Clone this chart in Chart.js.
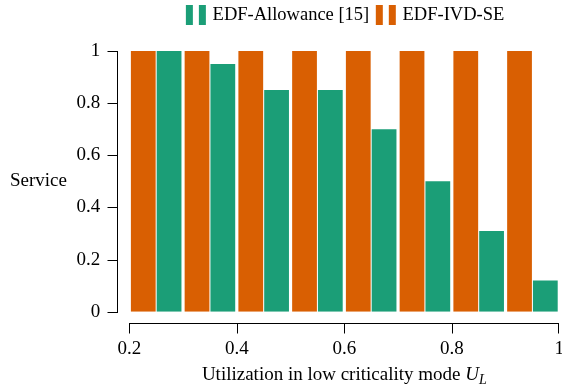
<!DOCTYPE html>
<html><head><meta charset="utf-8">
<script src="https://cdn.jsdelivr.net/npm/chart.js@4/dist/chart.umd.min.js"></script>
<style>html,body{margin:0;padding:0;background:#fff}</style>
</head><body>
<canvas id="c" width="562" height="391"></canvas>
<script>
// ---- data ----
const utilization = [0.25, 0.35, 0.45, 0.55, 0.65, 0.75, 0.85, 0.95];
const allowanceService = [1, 0.95, 0.85, 0.85, 0.7, 0.5, 0.31, 0.12];
const ivdService = [1, 1, 1, 1, 1, 1, 1, 1];
const xTicks = [0.2, 0.4, 0.6, 0.8, 1];
const yTicks = [0, 0.2, 0.4, 0.6, 0.8, 1];
const allowanceName = 'EDF-Allowance [15]';
const ivdName = 'EDF-IVD-SE';
const yTitle = 'Service';
const xTitleMain = 'Utilization in low criticality mode ';
const xTitleVar = 'U';
const xTitleSub = 'L';

const GREEN = '#1b9e77', ORANGE = '#d95f02';
const FAMILY = "'Liberation Serif', 'Times New Roman', serif";
Chart.defaults.font.family = FAMILY;
Chart.defaults.color = '#000';

function legendIcon(color) {
  const c = document.createElement('canvas');
  c.width = 44; c.height = 20;
  const g = c.getContext('2d');
  g.fillStyle = color;
  g.fillRect(14, 0, 7, 20);
  g.fillRect(27, 0, 7, 20);
  return c;
}
const icons = [legendIcon(ORANGE), legendIcon(GREEN)];

const axesPlugin = {
  id: 'offsetAxes',
  afterDraw(chart) {
    const {ctx, chartArea, scales: {x, y}} = chart;
    ctx.save();
    ctx.strokeStyle = '#000';
    ctx.lineWidth = 1;
    // y spine
    const sx = Math.round(chartArea.left - 12) + 0.5;
    const yTop = Math.round(y.getPixelForValue(yTicks[yTicks.length - 1])) + 0.5;
    const yBot = Math.round(y.getPixelForValue(yTicks[0])) + 0.5;
    ctx.beginPath();
    ctx.moveTo(sx, yTop - 0.5); ctx.lineTo(sx, yBot + 0.5);
    yTicks.forEach(v => {
      const py = Math.round(y.getPixelForValue(v)) + 0.5;
      ctx.moveTo(sx - 10, py); ctx.lineTo(sx, py);
    });
    // x spine
    const sy = Math.round(chartArea.bottom + 11.6) + 0.5;
    const xL = Math.round(x.getPixelForValue(xTicks[0])) + 0.5;
    const xR = Math.round(x.getPixelForValue(xTicks[xTicks.length - 1])) - 0.5;
    ctx.moveTo(xL - 0.5, sy); ctx.lineTo(xR + 0.5, sy);
    xTicks.forEach((v, i) => {
      const px = i === xTicks.length - 1 ? xR : Math.round(x.getPixelForValue(v)) + 0.5;
      ctx.moveTo(px, sy); ctx.lineTo(px, sy + 10);
    });
    ctx.stroke();

    // axis titles
    ctx.fillStyle = '#000';
    ctx.textBaseline = 'middle';
    ctx.textAlign = 'left';
    ctx.font = '19px ' + FAMILY;
    ctx.fillText(yTitle, 10, (chartArea.top + chartArea.bottom) / 2);

    ctx.textBaseline = 'alphabetic';
    const fMain = '19px ' + FAMILY, fVar = 'italic 19px ' + FAMILY, fSub = 'italic 14px ' + FAMILY;
    ctx.font = fMain; const w1 = ctx.measureText(xTitleMain).width;
    ctx.font = fVar; const w2 = ctx.measureText(xTitleVar).width;
    ctx.font = fSub; const w3 = ctx.measureText(xTitleSub).width;
    const total = w1 + w2 + w3;
    let tx = (chartArea.left + chartArea.right) / 2 - total / 2;
    const base = 380;
    ctx.font = fMain; ctx.fillText(xTitleMain, tx, base); tx += w1;
    ctx.font = fVar; ctx.fillText(xTitleVar, tx, base); tx += w2;
    ctx.font = fSub; ctx.fillText(xTitleSub, tx, base + 4);
    ctx.restore();
  }
};

new Chart(document.getElementById('c'), {
  type: 'bar',
  data: {
    datasets: [
      { label: ivdName, data: utilization.map((u, i) => ({x: u, y: ivdService[i]})),
        backgroundColor: ORANGE, borderWidth: 0 },
      { label: allowanceName, data: utilization.map((u, i) => ({x: u, y: allowanceService[i]})),
        backgroundColor: GREEN, borderWidth: 0 }
    ]
  },
  options: {
    responsive: false,
    animation: false,
    events: [],
    devicePixelRatio: 1,
    categoryPercentage: 0.96,
    barPercentage: 0.96,
    layout: { padding: { top: 1, right: 2.7, bottom: 0, left: 0 } },
    scales: {
      x: {
        type: 'linear', min: 0.2, max: 1, offset: false,
        grid: { display: false, drawTicks: false },
        border: { display: false },
        afterBuildTicks: s => { s.ticks = xTicks.map(v => ({value: v})); },
        ticks: { padding: 26, font: { size: 19 }, maxRotation: 0, autoSkip: false,
                 callback: v => String(v) },
        afterFit: s => { s.height = 79.3; s.paddingLeft = 0; s.paddingRight = 0; }
      },
      y: {
        min: 0, max: 1,
        grid: { display: false, drawTicks: false },
        border: { display: false },
        afterBuildTicks: s => { s.ticks = yTicks.map(v => ({value: v})); },
        ticks: { padding: 29, font: { size: 19 }, callback: v => String(v) },
        afterFit: s => { s.width = 129.3; }
      }
    },
    plugins: {
      tooltip: { enabled: false },
      legend: {
        position: 'top',
        fullSize: false,
        labels: {
          usePointStyle: true,
          pointStyleWidth: 19,
          padding: 5,
          font: { size: 18.5 },
          color: '#000',
          sort: (a, b) => b.datasetIndex - a.datasetIndex,
          generateLabels: chart => {
            const items = Chart.defaults.plugins.legend.labels.generateLabels(chart);
            items.forEach(it => { it.pointStyle = icons[it.datasetIndex]; });
            return items;
          }
        }
      },
      subtitle: { display: true, text: '', position: 'top', weight: 500,
                  padding: 0, font: { size: 10, lineHeight: 1.65 } },
      title: { display: false }
    }
  },
  plugins: [axesPlugin]
});
</script>
</body></html>
